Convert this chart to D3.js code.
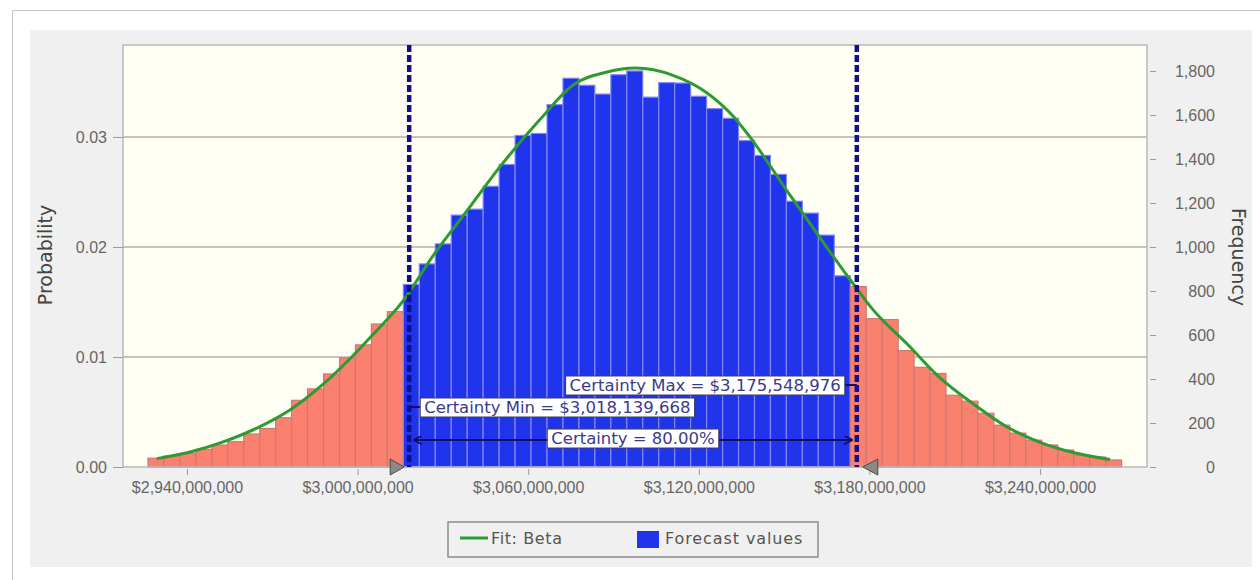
<!DOCTYPE html>
<html>
<head>
<meta charset="utf-8">
<script src="https://cdn.jsdelivr.net/npm/d3@7"></script>
<style>
body { margin: 0; background: #fff; }
svg { display: block; font-family: "DejaVu Sans", sans-serif; }
</style>
</head>
<body>
<svg id="chart" width="1260" height="580"></svg>
<script>
// histogram bins (dollars) and frequency per bin
const binStart = 2926.28e6;
const binWidth = 5.613e6;
const frequencies = [
    40, 50, 62, 80, 100, 115, 150, 175, 224, 303, 355, 423, 496, 555, 650, 706,
    830, 923, 1014, 1145, 1172, 1276, 1375, 1507, 1516, 1647, 1767, 1735, 1695, 1783,
    1800, 1681, 1747, 1745, 1685, 1629, 1585, 1484, 1416, 1330, 1208, 1154, 1054, 869,
    820, 674, 670, 529, 453, 425, 326, 299, 244, 190, 154, 122, 100, 77, 54, 45, 32
];

// Beta fit curve
const fitValues = [
    2929.4e6, 2941.1e6, 2952.7e6, 2964.6e6, 2976.2e6, 2987.8e6, 2999.8e6, 3005.4e6,
    3016.0e6, 3026.5e6, 3038.5e6, 3050.1e6, 3064.2e6, 3075.8e6, 3087.7e6, 3097.6e6,
    3110.9e6, 3122.9e6, 3132.0e6, 3139.1e6, 3151.0e6, 3162.6e6, 3174.2e6, 3181.3e6,
    3193.2e6, 3204.8e6, 3216.4e6, 3228.4e6, 3240.0e6, 3251.6e6, 3264.6e6
];
const fitFreq = [
    38, 68, 114, 177, 259, 375, 525, 602, 755, 960, 1165, 1365, 1580, 1736, 1795, 1813,
    1780, 1700, 1595, 1480, 1255, 1042, 834, 714, 560, 405, 288, 182, 112, 66, 34
];

const certaintyMin = 3018139668;
const certaintyMax = 3175548976;
const certaintyPct = 80.00;
const trials = 50000;

const xTicks = [2940e6, 3000e6, 3060e6, 3120e6, 3180e6, 3240e6];
const probTicks = [0, 0.01, 0.02, 0.03];
const freqTicks = [0, 200, 400, 600, 800, 1000, 1200, 1400, 1600, 1800];

const plot = { left: 123, top: 45, right: 1147, bottom: 467 };
const freqTop = 1918;

const svg = d3.select("#chart");

// frame + panel + plot background
svg.append("rect")
    .attr("x", 12.5).attr("y", 10.5)
    .attr("width", 1300).attr("height", 600)
    .attr("fill", "#fff").attr("stroke", "#c6c6c6");
svg.append("rect")
    .attr("x", 30).attr("y", 30)
    .attr("width", 1222).attr("height", 537)
    .attr("fill", "#f0f0f0");
svg.append("rect")
    .attr("x", plot.left).attr("y", plot.top)
    .attr("width", plot.right - plot.left).attr("height", plot.bottom - plot.top)
    .attr("fill", "#fffff4");

const x = d3.scaleLinear()
    .domain([2917.5e6, 3277.6e6])
    .range([plot.left, plot.right]);
const yFreq = d3.scaleLinear()
    .domain([0, freqTop])
    .range([plot.bottom, plot.top]);
const yProb = d3.scaleLinear()
    .domain([0, freqTop / trials])
    .range([plot.bottom, plot.top]);

// gridlines
svg.append("g")
    .selectAll("line")
    .data(probTicks.filter(d => d > 0))
    .enter()
    .append("line")
    .attr("x1", plot.left).attr("x2", plot.right)
    .attr("y1", d => yProb(d)).attr("y2", d => yProb(d))
    .attr("stroke", "#b4b2a8").attr("stroke-width", 1.5);

// bars
const binLo = i => binStart + i * binWidth;
const inCertainty = i => {
    const mid = binLo(i) + binWidth / 2;
    return mid >= certaintyMin && mid <= certaintyMax;
};

svg.append("g")
    .selectAll(".bar")
    .data(frequencies)
    .enter()
    .append("rect")
    .attr("class", "bar")
    .attr("x", (d, i) => x(binLo(i)))
    .attr("width", (d, i) => x(binLo(i + 1)) - x(binLo(i)))
    .attr("y", d => yFreq(d))
    .attr("height", d => plot.bottom - yFreq(d))
    .attr("fill", (d, i) => inCertainty(i) ? "#2034ee" : "#fa8070")
    .attr("stroke", (d, i) => inCertainty(i) ? "#8288ee" : "#cc7a70")
    .attr("stroke-width", 1.2);

// plot border
svg.append("rect")
    .attr("x", plot.left).attr("y", plot.top)
    .attr("width", plot.right - plot.left).attr("height", plot.bottom - plot.top)
    .attr("fill", "none").attr("stroke", "#b8b8b8").attr("stroke-width", 1.5);

// fit curve
const fitPoints = fitValues.map((v, i) => ({ v: v, f: fitFreq[i] }));
svg.append("path")
    .datum(fitPoints)
    .attr("fill", "none")
    .attr("stroke", "#2e9a34")
    .attr("stroke-width", 3)
    .attr("d", d3.line()
        .x(d => x(d.v))
        .y(d => yFreq(d.f))
        .curve(d3.curveMonotoneX));

// axes
function styleAxis(g) {
    g.select(".domain").remove();
    g.selectAll(".tick line").attr("stroke", "#9a9a9a");
    g.selectAll(".tick text")
        .attr("fill", "#666")
        .attr("font-size", 16);
}

svg.append("g")
    .attr("transform", `translate(${plot.left},0)`)
    .call(d3.axisLeft(yProb).tickValues(probTicks).tickSize(10).tickPadding(6)
        .tickFormat(d3.format(".2f")))
    .call(styleAxis);

svg.append("g")
    .attr("transform", `translate(${plot.right + 3},0)`)
    .call(d3.axisRight(yFreq).tickValues(freqTicks).tickSize(6)
        .tickFormat(d3.format(",")))
    .call(styleAxis)
    .selectAll(".tick text")
    .attr("x", 65)
    .attr("text-anchor", "end");

svg.append("g")
    .attr("transform", `translate(0,${plot.bottom + 2})`)
    .call(d3.axisBottom(x).tickValues(xTicks).tickSize(6)
        .tickFormat(d3.format("$,.0f")))
    .call(styleAxis)
    .selectAll(".tick text")
    .attr("y", 24)
    .attr("dy", 0);

// axis titles
svg.append("text")
    .attr("transform", "translate(52,255) rotate(-90)")
    .attr("text-anchor", "middle")
    .attr("font-size", 19)
    .attr("fill", "#444")
    .text("Probability");

svg.append("text")
    .attr("transform", "translate(1232,257) rotate(90)")
    .attr("text-anchor", "middle")
    .attr("font-size", 19)
    .attr("fill", "#444")
    .text("Frequency");

// certainty lines
[certaintyMin, certaintyMax].forEach(v => {
    svg.append("line")
        .attr("x1", x(v)).attr("x2", x(v))
        .attr("y1", plot.top).attr("y2", plot.bottom)
        .attr("stroke", "#10108a")
        .attr("stroke-width", 4.5)
        .attr("stroke-dasharray", "7,3");
});

// grabber triangles
const xMin = x(certaintyMin), xMax = x(certaintyMax);
svg.append("path")
    .attr("d", `M${xMin - 5},${plot.bottom} L${xMin - 19},${plot.bottom - 8} L${xMin - 19},${plot.bottom + 8} Z`)
    .attr("fill", "#8a8a8a").attr("stroke", "#4a4a4a");
svg.append("path")
    .attr("d", `M${xMax + 6},${plot.bottom} L${xMax + 21},${plot.bottom - 8} L${xMax + 21},${plot.bottom + 8} Z`)
    .attr("fill", "#8a8a8a").attr("stroke", "#4a4a4a");

// double arrow
const defs = svg.append("defs");
defs.append("marker")
    .attr("id", "arrow")
    .attr("viewBox", "0 0 10 10")
    .attr("refX", 9).attr("refY", 5)
    .attr("markerWidth", 9).attr("markerHeight", 9)
    .attr("markerUnits", "userSpaceOnUse")
    .attr("orient", "auto-start-reverse")
    .append("path")
    .attr("d", "M0,0 L10,5 L0,10")
    .attr("fill", "none")
    .attr("stroke", "#10106a")
    .attr("stroke-width", 2);

svg.append("line")
    .attr("x1", xMin + 5).attr("x2", xMax - 5)
    .attr("y1", 440).attr("y2", 440)
    .attr("stroke", "#10106a")
    .attr("stroke-width", 2)
    .attr("marker-start", "url(#arrow)")
    .attr("marker-end", "url(#arrow)");

// labels with white boxes
function addLabel(txt, px, anchor, cy) {
    const g = svg.append("g");
    const t = g.append("text")
        .attr("x", px)
        .attr("y", cy + 6)
        .attr("text-anchor", anchor)
        .attr("font-size", 16.5)
        .attr("fill", "#3c3a8c")
        .text(txt);
    const bb = t.node().getBBox();
    g.insert("rect", "text")
        .attr("x", bb.x - 4).attr("y", cy - 9)
        .attr("width", bb.width + 8).attr("height", 19)
        .attr("fill", "#fff")
        .attr("stroke", "#3a3a5a")
        .attr("stroke-width", 1);
    return bb;
}

const fmtMoney = d3.format("$,.0f");
svg.append("line")
    .attr("x1", xMax - 14).attr("x2", xMax)
    .attr("y1", 385).attr("y2", 385)
    .attr("stroke", "#10106a").attr("stroke-width", 2);
addLabel("Certainty Max = " + fmtMoney(certaintyMax), xMax - 16, "end", 385);

svg.append("line")
    .attr("x1", xMin).attr("x2", xMin + 12)
    .attr("y1", 407).attr("y2", 407)
    .attr("stroke", "#10106a").attr("stroke-width", 2);
addLabel("Certainty Min = " + fmtMoney(certaintyMin), xMin + 15, "start", 407);

addLabel("Certainty = " + certaintyPct.toFixed(2) + "%", (xMin + xMax) / 2, "middle", 438);

// legend
const legend = svg.append("g");
legend.append("rect")
    .attr("x", 448).attr("y", 522)
    .attr("width", 370).attr("height", 35)
    .attr("fill", "#f0f0f0")
    .attr("stroke", "#8c8c8c")
    .attr("stroke-width", 1.5);
legend.append("line")
    .attr("x1", 460).attr("x2", 488)
    .attr("y1", 538).attr("y2", 538)
    .attr("stroke", "#2e9a34").attr("stroke-width", 3);
legend.append("text")
    .attr("x", 491).attr("y", 544)
    .attr("font-size", 16)
    .attr("letter-spacing", 0.6)
    .attr("fill", "#555")
    .text("Fit: Beta");
legend.append("rect")
    .attr("x", 637).attr("y", 531)
    .attr("width", 22).attr("height", 17)
    .attr("fill", "#2034ee");
legend.append("text")
    .attr("x", 665).attr("y", 544)
    .attr("font-size", 16)
    .attr("letter-spacing", 0.9)
    .attr("fill", "#555")
    .text("Forecast values");
</script>
</body>
</html>
